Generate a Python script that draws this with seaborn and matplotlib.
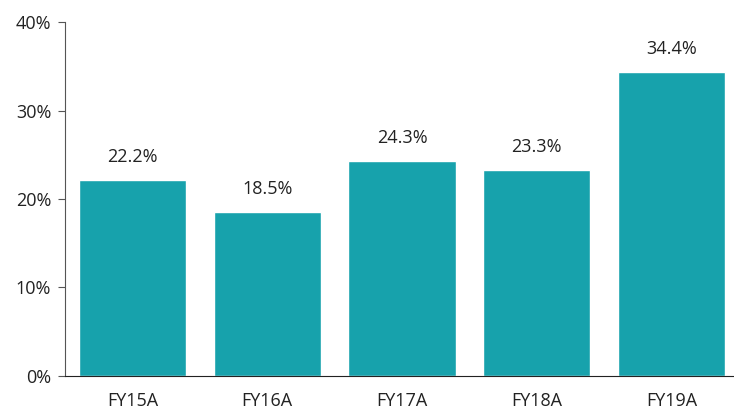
import matplotlib
matplotlib.use("Agg")
import matplotlib.pyplot as plt
import seaborn as sns
import pandas as pd
from matplotlib.ticker import PercentFormatter

years = ["FY15A", "FY16A", "FY17A", "FY18A", "FY19A"]
margins = [22.2, 18.5, 24.3, 23.3, 34.4]
bar_color = "#17A2AC"

df = pd.DataFrame({"year": years, "margin": margins})

sns.set_style("white")
plt.rcParams['font.family'] = ['Open Sans', 'DejaVu Sans']

fig = plt.figure(figsize=(7.34, 4.09), dpi=100)
ax = fig.add_axes([0.0886, 0.0807, 0.918, 0.8655])

sns.barplot(data=df, x="year", y="margin", color=bar_color, saturation=1,
            width=0.795, ax=ax)

for i, v in enumerate(margins):  # 값 라벨
    ax.annotate(f"{v:.1f}%", xy=(i, v), xytext=(0, 10), textcoords="offset points",
                ha="center", va="bottom", fontsize=13, color="#222222")

ax.set_ylim(0, 40)
ax.set_xlim(-0.5, 4.5)
ax.set_yticks([0, 10, 20, 30, 40])
ax.yaxis.set_major_formatter(PercentFormatter(decimals=0))
ax.set_xlabel("")
ax.set_ylabel("")

for s in ["top", "right"]:
    ax.spines[s].set_visible(False)
ax.spines["left"].set_color("#555555")
ax.spines["bottom"].set_color("#222222")
ax.tick_params(axis="y", left=True, length=5, color="#555555", labelsize=13,
               labelcolor="#222222", pad=5)
ax.tick_params(axis="x", bottom=False, labelsize=13, labelcolor="#222222", pad=8)

fig.savefig("out.png", dpi=100)
